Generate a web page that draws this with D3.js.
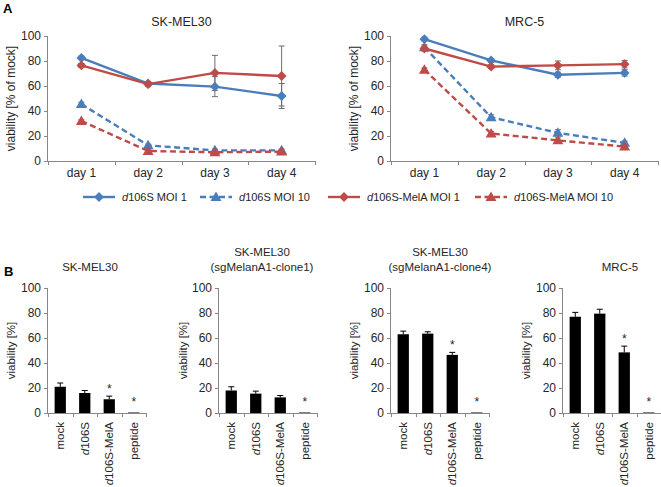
<!DOCTYPE html>
<html><head><meta charset="utf-8">
<script src="https://cdn.jsdelivr.net/npm/d3@7"></script>
<style>
html,body{margin:0;padding:0;background:#fff;}
svg{display:block;font-family:"Liberation Sans",Arial,sans-serif;}
</style></head>
<body>
<svg id="c" width="661" height="487"></svg>
<script>
// ---------- DATA ----------
const days = ["day 1", "day 2", "day 3", "day 4"];
const seriesNames = ["d106S MOI 1", "d106S MOI 10", "d106S-MelA MOI 1", "d106S-MelA MOI 10"];

const skmel30_d106S_moi1      = [82.5, 62, 59.5, 52];
const skmel30_d106S_moi1_err  = [1.5, 1.5, 8, 10];
const skmel30_d106S_moi10     = [45.5, 12.5, 8.5, 8.5];
const skmel30_d106S_moi10_err = [1.5, 1, 1, 1];
const skmel30_melA_moi1       = [76.5, 61.5, 70.5, 68];
const skmel30_melA_moi1_err   = [1.5, 2, 14, 24];
const skmel30_melA_moi10      = [32, 8, 7, 7.5];
const skmel30_melA_moi10_err  = [1, 1, 1, 1];

const mrc5_d106S_moi1      = [97.5, 80.5, 69, 70.5];
const mrc5_d106S_moi1_err  = [1.5, 1.5, 2, 2.5];
const mrc5_d106S_moi10     = [91, 35, 22.5, 14.5];
const mrc5_d106S_moi10_err = [2, 2, 2.5, 1.5];
const mrc5_melA_moi1       = [90, 75.5, 76.5, 77.5];
const mrc5_melA_moi1_err   = [2, 1.5, 3.5, 3];
const mrc5_melA_moi10      = [73, 22, 16.5, 11.5];
const mrc5_melA_moi10_err  = [1.5, 1.5, 2, 1.5];

const yTicks = [0, 20, 40, 60, 80, 100];

const barCats = ["mock", "d106S", "d106S-MelA", "peptide"];
const b1_vals = [21, 16, 11, 0.4];   const b1_err = [3, 2, 2.5, 0];   const b1_sig = [0, 0, 1, 1];
const b2_vals = [18, 15.5, 12.5, 0.4]; const b2_err = [3, 2, 1.5, 0]; const b2_sig = [0, 0, 0, 1];
const b3_vals = [63, 63.5, 46.5, 0.4]; const b3_err = [2.5, 1.5, 2, 0]; const b3_sig = [0, 0, 1, 1];
const b4_vals = [77, 79.5, 48.5, 0.4]; const b4_err = [3.5, 3.5, 5, 0]; const b4_sig = [0, 0, 1, 1];

// ---------- STYLE / LAYOUT ----------
const BLUE = "#4A7EBB", RED = "#BE4B48", AXIS = "#878787", TXT = "#262626", ERR = "#6d6d6d";
const svg = d3.select("#c");

function catLabel(sel, text) {
  if (text.startsWith("d1")) {
    sel.append("tspan").attr("font-style", "italic").text("d");
    sel.append("tspan").text(text.slice(1));
  } else sel.text(text);
}

svg.append("text").attr("x", 3).attr("y", 13).attr("font-weight", "bold")
  .attr("font-size", 13).attr("fill", "#000").text("A");
svg.append("text").attr("x", 4).attr("y", 276).attr("font-weight", "bold")
  .attr("font-size", 13).attr("fill", "#000").text("B");

// ---------- PANEL A ----------
const yA = d3.scaleLinear().domain([0, 100]).range([161, 36]);
const panelsA = [
  { title: "SK-MEL30", x0: 48, x1: 315, lab: 15,
    s: [[skmel30_d106S_moi1, skmel30_d106S_moi1_err], [skmel30_d106S_moi10, skmel30_d106S_moi10_err],
        [skmel30_melA_moi1, skmel30_melA_moi1_err], [skmel30_melA_moi10, skmel30_melA_moi10_err]] },
  { title: "MRC-5", x0: 391, x1: 658, lab: 358,
    s: [[mrc5_d106S_moi1, mrc5_d106S_moi1_err], [mrc5_d106S_moi10, mrc5_d106S_moi10_err],
        [mrc5_melA_moi1, mrc5_melA_moi1_err], [mrc5_melA_moi10, mrc5_melA_moi10_err]] }
];
const sStyle = [
  { c: BLUE, dash: null, sym: "diamond" },
  { c: BLUE, dash: "6,3.5", sym: "triangle" },
  { c: RED, dash: null, sym: "diamond" },
  { c: RED, dash: "6,3.5", sym: "triangle" }
];
const diamond = d3.symbol().type(d3.symbolSquare).size(48);
const tri = d3.symbol().type(d3.symbolTriangle).size(52);
function marker(g, st, x, y) {
  if (st.sym === "diamond")
    g.append("path").attr("d", diamond()).attr("fill", st.c)
      .attr("transform", `translate(${x},${y}) rotate(45)`);
  else
    g.append("path").attr("d", tri()).attr("fill", st.c)
      .attr("transform", `translate(${x},${y + 0.8})`);
}

panelsA.forEach(p => {
  const g = svg.append("g");
  const x = d3.scaleBand().domain(days).range([p.x0, p.x1]);
  const cx = d => x(d) + x.bandwidth() / 2;
  const ya = g.append("g").attr("transform", `translate(${p.x0},0)`)
    .call(d3.axisLeft(yA).tickValues(yTicks).tickSize(4).tickPadding(3));
  ya.select(".domain").attr("stroke", AXIS).attr("d", `M-0.5,${yA(0)}V${yA(100)}`);
  ya.selectAll(".tick line").attr("stroke", AXIS);
  ya.selectAll("text").attr("font-size", 12).attr("fill", TXT).attr("font-family", "Liberation Sans, Arial");
  const xa = g.append("g").attr("transform", `translate(0,${yA(0)})`)
    .call(d3.axisBottom(x).tickSize(0).tickPadding(7));
  xa.select(".domain").attr("stroke", AXIS);
  xa.selectAll("text").attr("font-size", 12).attr("fill", TXT).attr("font-family", "Liberation Sans, Arial");
  days.concat([null]).forEach((d, i) => {
    const xx = Math.round(p.x0 + i * x.step()) + 0.5;
    g.append("line").attr("x1", xx).attr("x2", xx).attr("y1", yA(0)).attr("y2", yA(0) + 4).attr("stroke", AXIS);
  });
  g.append("text").attr("x", (p.x0 + p.x1) / 2).attr("y", 26).attr("text-anchor", "middle")
    .attr("font-size", 12.5).attr("fill", TXT).text(p.title);
  g.append("text").attr("transform", `translate(${p.lab},${yA(50)}) rotate(-90)`)
    .attr("text-anchor", "middle").attr("font-size", 12).attr("fill", TXT).text("viability [% of mock]");
  p.s.forEach(([v, e]) => {
    v.forEach((val, i) => {
      if (!e[i]) return;
      const xx = cx(days[i]);
      const eg = g.append("g").attr("stroke", ERR).attr("stroke-width", 1);
      eg.append("line").attr("x1", xx).attr("x2", xx).attr("y1", yA(val - e[i])).attr("y2", yA(val + e[i]));
      [val - e[i], val + e[i]].forEach(q => eg.append("line").attr("x1", xx - 3).attr("x2", xx + 3).attr("y1", yA(q)).attr("y2", yA(q)));
    });
  });
  const line = d3.line().x((d, i) => cx(days[i])).y(d => yA(d));
  p.s.forEach(([v], k) => {
    const st = sStyle[k];
    g.append("path").attr("d", line(v)).attr("fill", "none").attr("stroke", st.c)
      .attr("stroke-width", 2.4).attr("stroke-dasharray", st.dash);
    v.forEach((val, i) => marker(g, st, cx(days[i]), yA(val)));
  });
});

// legend
const legX = [83, 200, 328, 475];
const lg = svg.append("g");
seriesNames.forEach((n, k) => {
  const st = sStyle[k], x0 = legX[k], y = 197;
  lg.append("line").attr("x1", x0).attr("x2", x0 + 32).attr("y1", y).attr("y2", y)
    .attr("stroke", st.c).attr("stroke-width", 2.4).attr("stroke-dasharray", st.dash);
  marker(lg, st, x0 + 16, y);
  const t = lg.append("text").attr("x", x0 + 39).attr("y", y + 4).attr("font-size", 11).attr("fill", TXT);
  catLabel(t, n);
});

// ---------- PANEL B ----------
const yB = d3.scaleLinear().domain([0, 100]).range([413, 288]);
const panelsB = [
  { t: ["SK-MEL30"], tx: 90, x0: 48, lab: 15, v: b1_vals, e: b1_err, s: b1_sig },
  { t: ["SK-MEL30", "(sgMelanA1-clone1)"], tx: 262, x0: 219, lab: 187, v: b2_vals, e: b2_err, s: b2_sig },
  { t: ["SK-MEL30", "(sgMelanA1-clone4)"], tx: 440, x0: 391, lab: 358, v: b3_vals, e: b3_err, s: b3_sig },
  { t: ["MRC-5"], tx: 620, x0: 563, lab: 530, v: b4_vals, e: b4_err, s: b4_sig }
];
panelsB.forEach(p => {
  const g = svg.append("g");
  const x = d3.scaleBand().domain(barCats).range([p.x0, p.x0 + 98]);
  const bw = x.bandwidth() * 0.46;
  const ya = g.append("g").attr("transform", `translate(${p.x0},0)`)
    .call(d3.axisLeft(yB).tickValues(yTicks).tickSize(4).tickPadding(3));
  ya.select(".domain").attr("stroke", AXIS).attr("d", `M-0.5,${yB(0)}V${yB(100)}`);
  ya.selectAll(".tick line").attr("stroke", AXIS);
  ya.selectAll("text").attr("font-size", 12).attr("fill", TXT).attr("font-family", "Liberation Sans, Arial");
  g.append("line").attr("x1", p.x0).attr("x2", p.x0 + 98).attr("y1", yB(0) + 0.5).attr("y2", yB(0) + 0.5).attr("stroke", AXIS);
  barCats.concat([null]).forEach((d, i) => {
    const xx = Math.round(p.x0 + i * x.step()) + 0.5;
    g.append("line").attr("x1", xx).attr("x2", xx).attr("y1", yB(0)).attr("y2", yB(0) + 4).attr("stroke", AXIS);
  });
  barCats.forEach((c, i) => {
    const cx = x(c) + x.bandwidth() / 2;
    const t = g.append("text").attr("transform", `translate(${cx + 4},${yB(0) + 9}) rotate(-90)`)
      .attr("text-anchor", "end").attr("font-size", 11.5).attr("fill", TXT);
    catLabel(t, c);
    g.append("rect").attr("x", cx - bw / 2).attr("width", bw)
      .attr("y", yB(p.v[i])).attr("height", yB(0) - yB(p.v[i])).attr("fill", "#000");
    if (p.e[i]) {
      const top = yB(p.v[i] + p.e[i]);
      g.append("line").attr("x1", cx).attr("x2", cx).attr("y1", yB(p.v[i])).attr("y2", top).attr("stroke", "#000");
      g.append("line").attr("x1", cx - 3).attr("x2", cx + 3).attr("y1", top).attr("y2", top).attr("stroke", "#000");
    }
    if (p.s[i]) {
      const top = yB(p.v[i] + p.e[i]);
      g.append("text").attr("x", cx).attr("y", top - (p.e[i] ? 3 : 7)).attr("text-anchor", "middle")
        .attr("font-size", 12).attr("fill", TXT).text("*");
    }
  });
  g.append("text").attr("transform", `translate(${p.lab},${yB(50)}) rotate(-90)`)
    .attr("text-anchor", "middle").attr("font-size", 11.5).attr("fill", TXT).text("viability [%]");
  p.t.forEach((line, i) => {
    g.append("text").attr("x", p.tx).attr("y", 271 - (p.t.length - 1 - i) * 15)
      .attr("text-anchor", "middle").attr("font-size", 11.5).attr("fill", TXT).text(line);
  });
});
</script>
</body></html>
